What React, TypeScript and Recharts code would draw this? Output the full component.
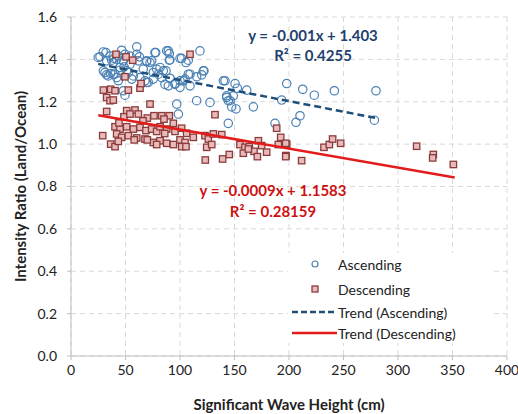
import React from "react";
import { CartesianGrid, Scatter, ScatterChart, XAxis, YAxis } from "recharts";

const xTicks = [0, 50, 100, 150, 200, 250, 300, 350, 400];
const yTicks = [0, 0.2, 0.4, 0.6, 0.8, 1.0, 1.2, 1.4, 1.6];

// [wave height (cm), intensity ratio]
const ascending: [number, number][] = [
  [26.6, 1.412], [32.1, 1.432], [37.3, 1.396], [39.4, 1.405], [43.4, 1.416], [46.5, 1.443],
  [49.5, 1.424], [54.1, 1.416], [60.3, 1.459], [62.7, 1.412], [69.4, 1.39], [74, 1.393],
  [77.7, 1.432], [87.8, 1.44], [90.2, 1.427], [90.2, 1.396], [100, 1.405], [105.5, 1.385],
  [107.6, 1.396], [118.3, 1.44], [29.7, 1.346], [32.7, 1.327], [36.4, 1.333], [40.4, 1.33],
  [45, 1.349], [48.6, 1.365], [52.6, 1.338], [57.2, 1.322], [63.3, 1.314], [67.9, 1.299],
  [70.9, 1.291], [75.5, 1.338], [80.1, 1.33], [83.2, 1.314], [87.2, 1.346], [90.8, 1.311],
  [95.4, 1.286], [100, 1.299], [104.6, 1.307], [109.2, 1.33], [115.3, 1.318], [119.9, 1.327],
  [122, 1.346], [139.8, 1.299], [150.5, 1.286], [152.6, 1.264], [161.2, 1.255], [142.8, 1.228],
  [144.3, 1.205], [147.4, 1.176], [151.4, 1.166], [167.3, 1.176], [115.3, 1.205], [97, 1.189],
  [98.5, 1.142], [144.3, 1.098], [187.2, 1.098], [197.9, 1.286], [193.3, 1.208], [212.6, 1.259],
  [206.4, 1.103], [210.1, 1.134], [48, 1.252], [49.5, 1.231], [223.2, 1.231], [241.6, 1.252],
  [279.8, 1.252], [278.3, 1.113], [25, 1.409], [29.6, 1.435], [32.7, 1.393], [35.8, 1.416],
  [38.8, 1.385], [41.9, 1.401], [45, 1.362], [48, 1.393], [51.1, 1.346], [54.1, 1.377],
  [60.3, 1.424], [61.7, 1.393], [66.3, 1.354], [69.4, 1.393], [72.5, 1.385], [77, 1.432],
  [78.6, 1.354], [81.7, 1.362], [31.2, 1.338], [34.2, 1.322], [38.8, 1.33], [41.9, 1.314],
  [43.4, 1.299], [55.7, 1.307], [69.4, 1.291], [75.5, 1.307], [89.3, 1.44], [90.8, 1.398],
  [101.5, 1.405], [84.7, 1.346], [86.2, 1.282], [89.3, 1.275], [95.4, 1.282], [100, 1.268],
  [103, 1.299], [107.6, 1.33], [109.2, 1.275], [121.4, 1.346], [141.3, 1.299], [142.8, 1.22],
  [145.9, 1.205], [148.9, 1.228], [127.5, 1.197],
];

const descending: [number, number][] = [
  [41.3, 1.424], [50.5, 1.412], [56.6, 1.396], [109.2, 1.424], [49.5, 1.318], [29.7, 1.255],
  [36.4, 1.259], [40.4, 1.252], [52.6, 1.255], [63.3, 1.264], [64.2, 1.286], [32.7, 1.22],
  [35.8, 1.205], [38.8, 1.208], [32.7, 1.154], [72.5, 1.189], [132.1, 1.139], [51.1, 1.158],
  [58.7, 1.161], [48.6, 1.129], [54.1, 1.142], [61.8, 1.142], [70, 1.123], [76.1, 1.134],
  [83.2, 1.134], [90.2, 1.134], [85.3, 1.118], [93.9, 1.098], [29.1, 1.04], [40.4, 1.082],
  [45, 1.071], [51.1, 1.082], [57.2, 1.071], [63.3, 1.079], [68.8, 1.064], [74, 1.071],
  [78.6, 1.06], [81.7, 1.082], [87.8, 1.071], [95.4, 1.06], [101.5, 1.075], [106.1, 1.051],
  [112.2, 1.032], [41.9, 1.048], [46.5, 1.032], [52.6, 1.04], [60.3, 1.029], [67.9, 1.024],
  [75.5, 1.008], [81.7, 1.016], [87.8, 1.004], [93.9, 0.998], [100, 1.02], [104.6, 1.008],
  [36.4, 1.0], [40.4, 0.988], [43.4, 1.013], [70, 1.02], [78.6, 0.998], [101.5, 0.988],
  [105.5, 0.988], [122.9, 1.04], [126, 1.024], [130.6, 1.048], [138.3, 1.045], [124.5, 0.985],
  [129.1, 0.998], [123.2, 0.925], [139.1, 0.93], [145.2, 0.951], [155, 0.998], [159.6, 0.985],
  [163.6, 0.988], [158.1, 0.957], [167.9, 0.966], [171.9, 1.016], [174.9, 0.993], [179.5, 0.962],
  [171, 0.941], [188.7, 1.075], [192.4, 1.032], [190.2, 0.998], [197.9, 1.0], [197.2, 0.946],
  [211.6, 0.922], [232.1, 0.985], [237, 0.998], [240, 1.024], [247.4, 1.004], [317.1, 0.99],
  [332.4, 0.951], [331.8, 0.935], [350.8, 0.904], [162.7, 0.977], [197, 1.004], [197, 0.941],
  [44, 1.1], [66, 1.11], [58, 1.02], [86, 1.05],
];

// trend line end points, from the fitted equations shown
const trendAscending: [number, number][] = [[25, 1.378], [280, 1.123]];
const trendDescending: [number, number][] = [[25, 1.136], [352, 0.842]];

const toPoints = (arr: [number, number][]) => arr.map(([x, y]) => ({ x, y }));

const FONT = "Lato, 'Open Sans', sans-serif";

const Circle = (props: any) => (
  <circle cx={props.cx} cy={props.cy} r={4.2} fill="none" stroke="#4a80b4" strokeWidth={1.2} />
);

const Square = (props: any) => (
  <rect
    x={props.cx - 3.2}
    y={props.cy - 3.2}
    width={6.4}
    height={6.4}
    fill="#e8baba"
    stroke="#8c3b3b"
    strokeWidth={1.3}
  />
);

const Empty = () => <g />;

const legendRow: React.CSSProperties = {
  position: "absolute",
  left: 0,
  height: 20,
  display: "flex",
  alignItems: "center",
  fontSize: 14,
  color: "#222",
};

export default function App() {
  return (
    <div style={{ position: "absolute", left: 0, top: 0, width: 518, height: 414, fontFamily: FONT }}>
      <ScatterChart width={518} height={414} margin={{ top: 17, right: 11, bottom: 0, left: 0 }}>
        <CartesianGrid stroke="#d9d9d9" strokeDasharray="5 4" />
        <XAxis
          type="number"
          dataKey="x"
          domain={[0, 400]}
          ticks={xTicks}
          height={58}
          stroke="#bfbfbf"
          tickSize={4}
          tickMargin={5}
          tick={{ fill: "#222", fontSize: 14, fontFamily: FONT }}
          label={{
            value: "Significant Wave Height (cm)",
            position: "insideBottom",
            offset: 4,
            fill: "#222",
            fontSize: 15,
            fontWeight: 700,
            fontFamily: FONT,
          }}
        />
        <YAxis
          type="number"
          dataKey="y"
          domain={[0, 1.6]}
          ticks={yTicks}
          width={71}
          stroke="#bfbfbf"
          tickSize={4}
          tickMargin={10}
          tickFormatter={(v) => v.toFixed(1)}
          tick={{ fill: "#222", fontSize: 14, fontFamily: FONT }}
          label={{
            value: "Intensity Ratio (Land/Ocean)",
            angle: -90,
            position: "insideLeft",
            offset: 21,
            style: { textAnchor: "middle" },
            fill: "#222",
            fontSize: 15,
            fontWeight: 700,
            fontFamily: FONT,
          }}
        />
        <Scatter data={toPoints(ascending)} shape={Circle} isAnimationActive={false} />
        <Scatter data={toPoints(descending)} shape={Square} isAnimationActive={false} />
        <Scatter
          data={toPoints(trendAscending)}
          shape={Empty}
          line={{ stroke: "#1f4e79", strokeWidth: 2.5, strokeDasharray: "7 4" }}
          isAnimationActive={false}
        />
        <Scatter
          data={toPoints(trendDescending)}
          shape={Empty}
          line={{ stroke: "#e31b1b", strokeWidth: 2.5 }}
          isAnimationActive={false}
        />
      </ScatterChart>

      <div style={{ position: "absolute", left: 213, top: 25, width: 200, textAlign: "center", color: "#1f3f6e", fontWeight: 700, fontSize: 15, lineHeight: "20px" }}>
        y = -0.001x + 1.403
        <br />
        R² = 0.4255
      </div>
      <div style={{ position: "absolute", left: 163, top: 180, width: 220, textAlign: "center", color: "#cc1111", fontWeight: 700, fontSize: 15, lineHeight: "21px" }}>
        y = -0.0009x + 1.1583
        <br />
        R² = 0.28159
      </div>

      <div style={{ position: "absolute", left: 288, top: 253, width: 206, height: 90, background: "#fff" }}>
        <div style={{ ...legendRow, top: 1 }}>
          <svg width={50} height={20}>
            <circle cx={27} cy={10} r={3} fill="none" stroke="#4a80b4" strokeWidth={1.2} />
          </svg>
          Ascending
        </div>
        <div style={{ ...legendRow, top: 26 }}>
          <svg width={50} height={20}>
            <rect x={24} y={7} width={6} height={6} fill="#e8baba" stroke="#8c3b3b" strokeWidth={1.3} />
          </svg>
          Descending
        </div>
        <div style={{ ...legendRow, top: 49 }}>
          <svg width={50} height={20}>
            <line x1={4} y1={10} x2={49} y2={10} stroke="#1f4e79" strokeWidth={2.5} strokeDasharray="6 3" />
          </svg>
          Trend (Ascending)
        </div>
        <div style={{ ...legendRow, top: 70 }}>
          <svg width={50} height={20}>
            <line x1={4} y1={10} x2={49} y2={10} stroke="#e31b1b" strokeWidth={2.5} />
          </svg>
          Trend (Descending)
        </div>
      </div>
    </div>
  );
}
